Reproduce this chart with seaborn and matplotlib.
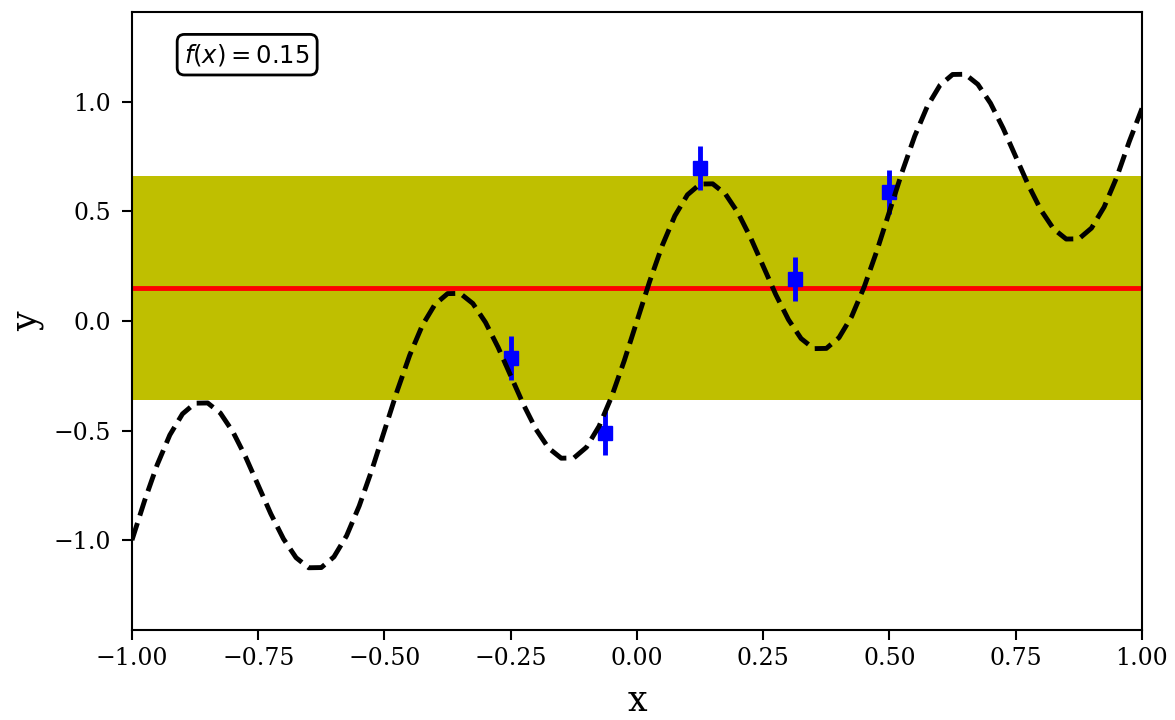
import numpy as np
import pandas as pd
import matplotlib
matplotlib.use("Agg")
import matplotlib.pyplot as plt
import seaborn as sns

# Dashed model curve
curve_x = [-1.000, -0.975, -0.950, -0.925, -0.900, -0.875, -0.850, -0.825, -0.800, -0.775,
           -0.750, -0.725, -0.700, -0.675, -0.650, -0.625, -0.600, -0.575, -0.550, -0.525,
           -0.500, -0.475, -0.450, -0.425, -0.400, -0.375, -0.350, -0.325, -0.300, -0.275,
           -0.250, -0.225, -0.200, -0.175, -0.150, -0.125, -0.100, -0.075, -0.050, -0.025,
           0.000, 0.025, 0.050, 0.075, 0.100, 0.125, 0.150, 0.175, 0.200, 0.225,
           0.250, 0.275, 0.300, 0.325, 0.350, 0.375, 0.400, 0.425, 0.450, 0.475,
           0.500, 0.525, 0.550, 0.575, 0.600, 0.625, 0.650, 0.675, 0.700, 0.725,
           0.750, 0.775, 0.800, 0.825, 0.850, 0.875, 0.900, 0.925, 0.950, 0.975, 1.000]
curve_y = [-1.000, -0.820, -0.656, -0.520, -0.424, -0.375, -0.374, -0.420, -0.506, -0.620,
           -0.750, -0.880, -0.994, -1.080, -1.126, -1.125, -1.076, -0.980, -0.844, -0.680,
           -0.500, -0.320, -0.156, -0.020, 0.076, 0.125, 0.126, 0.080, -0.006, -0.120,
           -0.250, -0.380, -0.494, -0.580, -0.626, -0.625, -0.576, -0.480, -0.344, -0.180,
           0.000, 0.180, 0.344, 0.480, 0.576, 0.625, 0.626, 0.580, 0.494, 0.380,
           0.250, 0.120, 0.006, -0.080, -0.126, -0.125, -0.076, 0.020, 0.156, 0.320,
           0.500, 0.680, 0.844, 0.980, 1.076, 1.125, 1.126, 1.080, 0.994, 0.880,
           0.750, 0.620, 0.506, 0.420, 0.374, 0.375, 0.424, 0.520, 0.656, 0.820, 0.970]

# Observed points with error bars
obs_x = [-0.25, -0.0625, 0.125, 0.3125, 0.5]
obs_y = [-0.17, -0.51, 0.70, 0.19, 0.59]
obs_err = [0.1, 0.1, 0.1, 0.1, 0.1]

# Constant fit and its band
fit_value = 0.15
band_low = -0.36
band_high = 0.66

x_ticks = [-1.0, -0.75, -0.5, -0.25, 0.0, 0.25, 0.5, 0.75, 1.0]
x_ticklabels = ["\u22121.00", "\u22120.75", "\u22120.50", "\u22120.25", "0.00",
                "0.25", "0.50", "0.75", "1.00"]
y_ticks = [-1.0, -0.5, 0.0, 0.5, 1.0]
y_ticklabels = ["\u22121.0", "\u22120.5", "0.0", "0.5", "1.0"]

sns.set_style("ticks")
plt.rcParams['font.family'] = ['DejaVu Serif']
plt.rcParams['mathtext.fontset'] = 'dejavusans'
for k in ['text.color', 'axes.labelcolor', 'xtick.color', 'ytick.color', 'axes.edgecolor']:
    plt.rcParams[k] = 'black'

fig = plt.figure(figsize=(11.75, 7.2), dpi=100)
ax = fig.add_axes([0.1123, 0.125, 0.8596, 0.8583])

ax.axhspan(band_low, band_high, color='y', lw=0, zorder=1)
ax.axhline(fit_value, color='r', lw=3.5, zorder=2)

ax.errorbar(obs_x, obs_y, yerr=obs_err, fmt='s', color='b', ms=10.5,
            elinewidth=3.5, capsize=0, zorder=3)

df = pd.DataFrame({"x": curve_x, "y": curve_y})
sns.lineplot(data=df, x="x", y="y", ax=ax, color='k', lw=3.5,
             linestyle='--', zorder=4, sort=False)

ax.set_xlim(-1, 1)
ax.set_ylim(-1.41, 1.41)
ax.set_xticks(x_ticks)
ax.set_yticks(y_ticks)
ax.set_xticklabels(x_ticklabels)
ax.set_yticklabels(y_ticklabels)
ax.tick_params(labelsize=17, width=1.5, length=7, color='black')
ax.tick_params(axis='x', pad=5)
ax.tick_params(axis='y', pad=8)
for s in ax.spines.values():
    s.set_linewidth(1.5)
    s.set_color('black')
ax.set_xlabel("x", fontsize=25, labelpad=10)
ax.set_ylabel("y", fontsize=25, labelpad=7)

ax.text(0.052, 0.952, r"$f(x) = 0.15$", transform=ax.transAxes, fontsize=17.5,
        ha='left', va='top',
        bbox=dict(boxstyle='round,pad=0.3', fc='white', ec='k', lw=2))

fig.savefig("out.png", dpi=100)
